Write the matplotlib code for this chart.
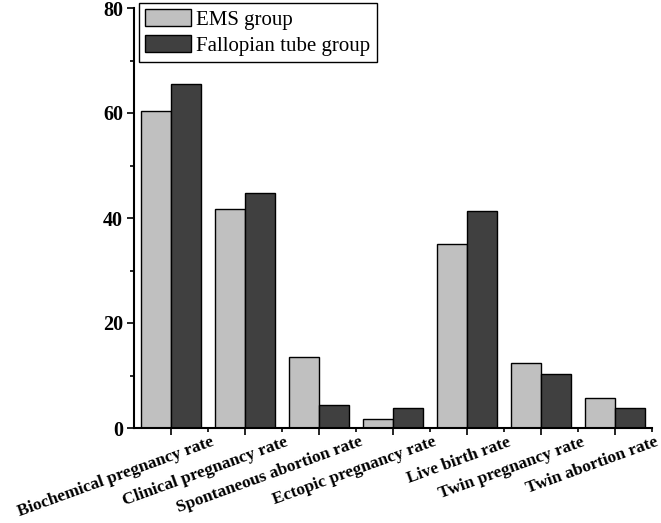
import matplotlib
matplotlib.use("Agg")
import matplotlib.pyplot as plt
import numpy as np
from matplotlib.transforms import ScaledTranslation
from matplotlib.ticker import MultipleLocator, FixedLocator

categories = ["Biochemical pregnancy rate", "Clinical pregnancy rate",
              "Spontaneous abortion rate", "Ectopic pregnancy rate",
              "Live birth rate", "Twin pregnancy rate", "Twin abortion rate"]
ems = [60.4, 41.7, 13.6, 1.8, 35.0, 12.4, 5.7]
fallopian = [65.5, 44.8, 4.4, 3.75, 41.4, 10.3, 3.9]
series_names = ["EMS group", "Fallopian tube group"]
yticks = [0, 20, 40, 60, 80]

plt.rcParams['font.family'] = ['Liberation Serif', 'DejaVu Serif']

fig = plt.figure(figsize=(6.61, 5.23), dpi=100)
ax = fig.add_axes([134/661, 1-428/523, (652-134)/661, (428-8)/523])

x = np.arange(1, len(categories)+1)
w = 0.4
ax.bar(x - w/2, ems, width=w, color='#c0c0c0', edgecolor='black', linewidth=1.0, label=series_names[0])
ax.bar(x + w/2, fallopian, width=w, color='#404040', edgecolor='black', linewidth=1.0, label=series_names[1])

ax.set_xlim(0.5, 7.5)
ax.set_ylim(0, 80)
ax.set_yticks(yticks)
ax.yaxis.set_minor_locator(MultipleLocator(10))
ax.set_xticks(x)
ax.xaxis.set_minor_locator(FixedLocator(np.arange(1.5, 7.6, 1.0)))
ax.set_xticklabels(categories, rotation=20, ha='right', va='top', rotation_mode='anchor',
                   fontsize=12.5, fontweight='bold')
for lab in ax.get_yticklabels():
    lab.set_fontweight('bold')
    lab.set_fontsize(14.5)

for s in ['top', 'right']:
    ax.spines[s].set_visible(False)
for s in ['left', 'bottom']:
    ax.spines[s].set_linewidth(1.5)

ax.tick_params(axis='both', which='major', direction='out', length=5, width=1.2)
ax.tick_params(axis='both', which='minor', direction='out', length=3, width=1.2)
ax.tick_params(axis='x', which='major', pad=0)
ax.tick_params(axis='y', which='major', pad=3)

offset = ScaledTranslation(40/100, 1/100, fig.dpi_scale_trans)
for lab in ax.get_xticklabels():
    lab.set_transform(lab.get_transform() + offset)

leg = ax.legend(loc='upper left', bbox_to_anchor=(139/661, 1-3/523),
                bbox_transform=fig.transFigure, borderaxespad=0,
                prop={'family': 'Liberation Serif', 'size': 15},
                handlelength=2.2, handleheight=0.87, handletextpad=0.25,
                labelspacing=0.25, borderpad=0.3, fancybox=False,
                edgecolor='black', framealpha=1)
leg.get_frame().set_linewidth(1.0)

fig.savefig("out.png", dpi=100)
